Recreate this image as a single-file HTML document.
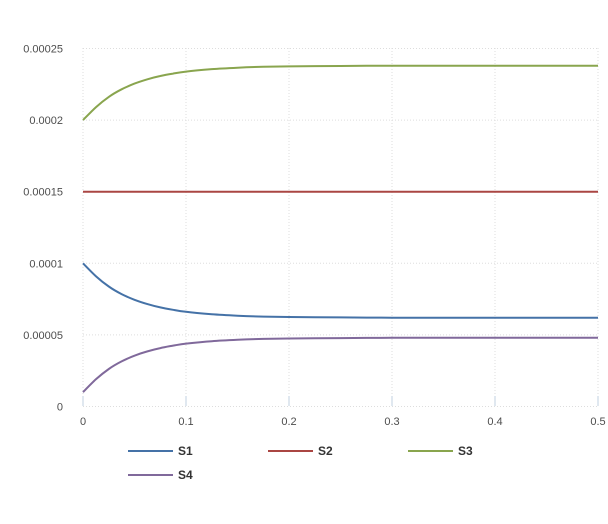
<!DOCTYPE html>
<html><head><meta charset="utf-8"><style>
body{margin:0;background:#fff;width:608px;height:519px;overflow:hidden}
svg{font-family:"Liberation Sans",sans-serif}
</style></head><body>
<svg id="chart" width="608" height="519" xmlns="http://www.w3.org/2000/svg">
<g id="grid"></g>
<g id="axes"></g>
<g id="series"></g>
<g id="legend"></g>
</svg>
<script>
const xs=[0,0.0125,0.025,0.0375,0.05,0.0625,0.075,0.0875,0.1,0.125,0.15,0.175,0.2,0.225,0.25,0.275,0.3,0.325,0.35,0.375,0.4,0.425,0.45,0.475,0.5];
const s1=[10,9.1,8.38,7.85,7.45,7.15,6.92,6.75,6.61,6.44,6.34,6.28,6.25,6.23,6.22,6.21,6.2,6.2,6.2,6.2,6.2,6.2,6.2,6.2,6.2];
const s2=[15,15,15,15,15,15,15,15,15,15,15,15,15,15,15,15,15,15,15,15,15,15,15,15,15];
const s3=[20,20.9,21.62,22.15,22.55,22.85,23.08,23.25,23.39,23.56,23.66,23.72,23.75,23.77,23.78,23.79,23.8,23.8,23.8,23.8,23.8,23.8,23.8,23.8,23.8];
const s4=[1.0,1.9,2.62,3.15,3.55,3.85,4.08,4.25,4.39,4.56,4.66,4.72,4.75,4.77,4.78,4.79,4.8,4.8,4.8,4.8,4.8,4.8,4.8,4.8,4.8];
const names=["S1","S2","S3","S4"];
const colors=["#4572a7","#aa4643","#89a54e","#80699b"];
const xTicks=[0,0.1,0.2,0.3,0.4,0.5];
const xTickLabels=["0","0.1","0.2","0.3","0.4","0.5"];
const yTicks=[0,5,10,15,20,25];
const yTickLabels=["0","0.00005","0.0001","0.00015","0.0002","0.00025"];
const NS="http://www.w3.org/2000/svg";
const X=v=>83+v/0.5*515;
const Y=v=>406.5-v/25*358;
function mk(t,a,p){const e=document.createElementNS(NS,t);for(const k in a)e.setAttribute(k,a[k]);p.appendChild(e);return e;}
function smooth(pts){
 let d='M'+pts[0][0].toFixed(1)+','+pts[0][1].toFixed(1);
 for(let i=0;i<pts.length-1;i++){
  const p0=pts[Math.max(0,i-1)],p1=pts[i],p2=pts[i+1],p3=pts[Math.min(pts.length-1,i+2)];
  const c1x=p1[0]+(p2[0]-p0[0])/6,c1y=p1[1]+(p2[1]-p0[1])/6;
  const c2x=p2[0]-(p3[0]-p1[0])/6,c2y=p2[1]-(p3[1]-p1[1])/6;
  d+='C'+c1x.toFixed(1)+','+c1y.toFixed(1)+' '+c2x.toFixed(1)+','+c2y.toFixed(1)+' '+p2[0].toFixed(1)+','+p2[1].toFixed(1);
 }
 return d;
}
const grid=document.getElementById('grid'),axes=document.getElementById('axes'),ser=document.getElementById('series'),leg=document.getElementById('legend');
yTicks.forEach((v,i)=>{
 const l=mk('line',{x1:83,x2:598,y1:Y(v),y2:Y(v),stroke:'#ddd','stroke-dasharray':'1,2'},grid);
 
 
 const t=mk('text',{x:63,y:Y(v)+4,'text-anchor':'end','font-size':11,fill:'#4d4d4d'},axes);
 t.textContent=yTickLabels[i];
 
 
});
xTicks.forEach((v,i)=>{
 const l=mk('line',{x1:X(v),x2:X(v),y1:48,y2:406,stroke:'#ddd','stroke-dasharray':'1,2'},grid);
 
 
 const tk=mk('line',{x1:X(v),x2:X(v),y1:396,y2:406,stroke:'#c0d0e0'},axes);
 
 
 const t=mk('text',{x:X(v),y:425,'text-anchor':'middle','font-size':11,fill:'#4d4d4d'},axes);
 t.textContent=xTickLabels[i];
 
 
});
[s1,s2,s3,s4].forEach((s,i)=>{
 const pts=s.map((v,j)=>[X(xs[j]),Y(v)]);
 const p=mk('path',{d:smooth(pts),fill:'none',stroke:colors[i],'stroke-width':2,'stroke-linejoin':'round'},ser);
 
 
 const lx=128+(i%3)*140, ly=451+Math.floor(i/3)*24;
 const g=mk('g',{},leg);
 
 
 mk('line',{x1:lx,x2:lx+45,y1:ly,y2:ly,stroke:colors[i],'stroke-width':2},g);
 const t=mk('text',{x:lx+50,y:ly+4,'font-size':12,'font-weight':'bold',fill:'#333'},g);
 t.textContent=names[i];
});
</script>
</body></html>
